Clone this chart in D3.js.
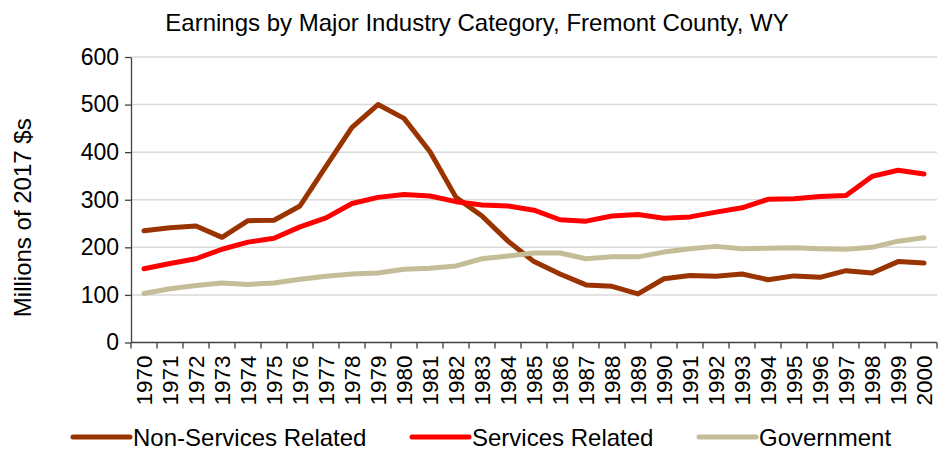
<!DOCTYPE html>
<html>
<head>
<meta charset="utf-8">
<script src="https://cdn.jsdelivr.net/npm/d3@7"></script>
<style>
  body { margin: 0; background: #fff; }
  svg { display: block; font-family: "Liberation Sans", Arial, sans-serif; }
  .axis path, .axis line { stroke: #404040; stroke-width: 1.3; }
  .axis text { fill: #000; }
</style>
</head>
<body>
<div id="chart"></div>
<script>
// years along the x axis
var years = d3.range(1970, 2001).map(String);

// series values, millions of 2017 $s
var nonServices = [235, 241, 245, 221, 256, 257, 287, 370, 452, 500,
                   471, 401, 305, 266, 213, 170, 144, 121, 118, 102,
                   134, 141, 139, 144, 132, 140, 137, 151, 146, 170, 167];
var services    = [155, 166, 176, 196, 211, 219, 243, 262, 292, 305,
                   311, 308, 296, 289, 287, 278, 258, 255, 266, 269,
                   261, 264, 274, 283, 301, 302, 307, 309, 349, 362, 354];
var government  = [103, 113, 120, 125, 122, 125, 133, 139, 144, 146,
                   154, 156, 161, 176, 182, 188, 188, 176, 180, 180,
                   190, 197, 202, 197, 198, 199, 197, 196, 200, 213, 220];

var yTicks = [0, 100, 200, 300, 400, 500, 600];

var seriesNames  = ["Non-Services Related", "Services Related", "Government"];
var seriesColors = ["#993300", "#ff0000", "#c4bd97"];
var seriesValues = [nonServices, services, government];

var w = 944, h = 449;
var margin = {top: 57, right: 7, bottom: 106.5, left: 131};

var svg = d3.select("#chart")
            .append("svg")
            .attr("width", w)
            .attr("height", h);

var xScale = d3.scaleBand()
               .domain(years)
               .range([margin.left, w - margin.right]);

var yScale = d3.scaleLinear()
               .domain([0, 600])
               .range([h - margin.bottom, margin.top]);

// title
svg.append("text")
   .attr("x", 477)
   .attr("y", 31)
   .attr("text-anchor", "middle")
   .style("font-size", "24px")
   .text("Earnings by Major Industry Category, Fremont County, WY");

// gridlines
svg.append("g")
   .selectAll("line")
   .data(yTicks.filter(function(d) { return d > 0; }))
   .enter()
   .append("line")
     .attr("x1", margin.left)
     .attr("x2", w - margin.right)
     .attr("y1", function(d) { return yScale(d); })
     .attr("y2", function(d) { return yScale(d); })
     .style("stroke", "#d9d9d9")
     .style("stroke-width", 1.5);

// y axis
var yAxis = d3.axisLeft(yScale)
              .tickValues(yTicks)
              .tickSize(6)
              .tickPadding(6)
              .tickSizeOuter(0);

svg.append("g")
   .attr("class", "axis")
   .attr("transform", "translate(" + margin.left + ",0)")
   .call(yAxis)
   .selectAll("text")
   .style("font-size", "23px");

// x axis: ticks between categories
var xAxisG = svg.append("g")
   .attr("class", "axis")
   .attr("transform", "translate(0," + yScale(0) + ")");

xAxisG.append("line")
   .attr("x1", margin.left)
   .attr("x2", w - margin.right)
   .attr("y1", 0).attr("y2", 0);

var boundaries = years.map(function(d) { return xScale(d); })
                      .concat([xScale(years[years.length - 1]) + xScale.bandwidth()]);
xAxisG.selectAll(".tk")
   .data(boundaries)
   .enter()
   .append("line")
     .attr("class", "tk")
     .attr("x1", function(d) { return d; })
     .attr("x2", function(d) { return d; })
     .attr("y1", 0)
     .attr("y2", 6);

xAxisG.selectAll(".yr")
   .data(years)
   .enter()
   .append("text")
     .attr("class", "yr")
     .attr("transform", function(d) {
         return "translate(" + (xScale(d) + xScale.bandwidth() / 2 + 8) + ",13) rotate(-90)";
     })
     .attr("text-anchor", "end")
     .style("font-size", "22.5px")
     .text(function(d) { return d; });

// y axis title
svg.append("text")
   .attr("transform", "translate(31," + ((margin.top + yScale(0)) / 2 + 18) + ") rotate(-90)")
   .attr("text-anchor", "middle")
   .style("font-size", "24px")
   .text("Millions of 2017 $s");

// lines
var line = d3.line()
             .x(function(d, i) { return xScale(years[i]) + xScale.bandwidth() / 2; })
             .y(function(d) { return yScale(d); });

svg.append("g")
   .selectAll("path")
   .data(seriesValues)
   .enter()
   .append("path")
     .attr("d", line)
     .style("fill", "none")
     .style("stroke", function(d, i) { return seriesColors[i]; })
     .style("stroke-width", 5)
     .style("stroke-linejoin", "round")
     .style("stroke-linecap", "round");

// legend
var legendX = [73, 412, 699];
var legend = svg.append("g")
   .selectAll("g")
   .data(seriesNames)
   .enter()
   .append("g")
     .attr("transform", function(d, i) { return "translate(" + legendX[i] + ",437)"; });

legend.append("line")
   .attr("x1", 0).attr("x2", 57)
   .attr("y1", 0).attr("y2", 0)
   .style("stroke", function(d, i) { return seriesColors[i]; })
   .style("stroke-width", 5)
   .style("stroke-linecap", "round");

legend.append("text")
   .attr("x", 60)
   .attr("y", 8.5)
   .style("font-size", "24px")
   .text(function(d) { return d; });
</script>
</body>
</html>
